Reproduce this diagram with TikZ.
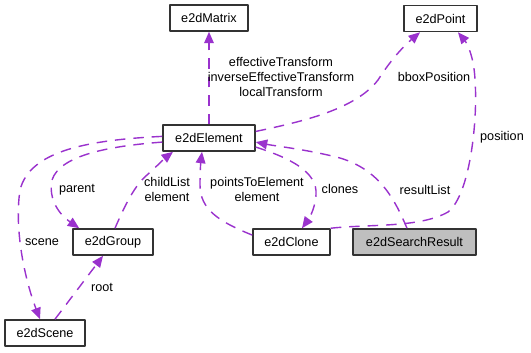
\documentclass[tikz,border=0pt]{standalone}
\usepackage{fontspec}
\setmainfont{Liberation Sans}
\usetikzlibrary{arrows.meta}
\definecolor{tim}{HTML}{9A32CD}
\definecolor{vien}{HTML}{333333}
\definecolor{xam}{HTML}{BFBFBF}
\tikzset{
	lop/.style={draw=vien, line width=0.9pt, fill=white, minimum height=0.52cm, inner sep=0pt, font=\fontsize{7.2}{8.6}\selectfont},
	quanhe/.style={->, tim, line width=0.8pt, dash pattern=on 6pt off 4.5pt},
	nhan/.style={font=\fontsize{7.2}{8.6}\selectfont, align=center, inner sep=0pt}
}
\begin{document}
\begin{tikzpicture}[x=0.02cm, y=-0.02cm, line join = round, >={Triangle[length=6.5pt,width=5.5pt]}]
			\useasboundingbox (0,0) rectangle (531,352);
			%Các lớp
			\node[lop, minimum width=1.56cm] (matrix) at (209,18) {e2dMatrix};
			\node[lop, minimum width=1.46cm] (point) at (440.5,18.5) {e2dPoint};
			\node[lop, minimum width=1.84cm] (element) at (209,138) {e2dElement};
			\node[lop, minimum width=1.6cm] (group) at (113,242) {e2dGroup};
			\node[lop, minimum width=1.54cm] (clone) at (291.5,242) {e2dClone};
			\node[lop, minimum width=2.46cm, fill=xam] (search) at (414.5,242) {e2dSearchResult};
			\node[lop, minimum width=1.6cm] (scene) at (45,333) {e2dScene};
			%Các quan hệ
			\draw[quanhe] (element.north) -- (matrix.south);
			\draw[quanhe] (element.8) .. controls (300,122) and (355,110) .. (378,80)
				.. controls (392,58) and (405,45) .. ([xshift=-0.41cm]point.south);
			\draw[quanhe] (clone.north east) .. controls (370,224) and (420,228) .. (448,212)
				.. controls (470,195) and (478,120) .. (475,80)
				.. controls (474,55) and (466,42) .. ([xshift=0.35cm]point.south);
			\draw[quanhe] ([xshift=-0.15cm]search.north) .. controls (395,200) and (380,170) .. (340,158)
				.. controls (310,150) and (275,146) .. (element.-5);
			\draw[quanhe] (element.-11) .. controls (290,158) and (318,172) .. (316,195)
				.. controls (315,210) and (308,220) .. ([xshift=0.21cm]clone.north);
			\draw[quanhe] (clone.170) .. controls (220,222) and (200,210) .. (200,185)
				.. controls (200,170) and (201,160) .. ([xshift=-0.14cm]element.south);
			\draw[quanhe] ([xshift=0.04cm]group.north) .. controls (125,205) and (135,185) .. (147,175)
				.. controls (157,166) and (165,158) .. ([xshift=-0.72cm]element.south);
			\draw[quanhe] (element.185) .. controls (110,146) and (60,155) .. (52,180)
				.. controls (48,200) and (60,215) .. ([xshift=0.14cm]group.north west);
			\draw[quanhe] (element.178) .. controls (90,140) and (30,150) .. (20,190)
				.. controls (14,230) and (25,280) .. ([xshift=-0.1cm]scene.north);
			\draw[quanhe] ([xshift=0.2cm]scene.north) -- ([xshift=-0.2cm]group.south);
			%Các nhãn
			\node[nhan] (ltransform) at (281,77) {effectiveTransform\\inverseEffectiveTransform\\localTransform};
			\node[nhan] (lbbox) at (434,77) {bboxPosition};
			\node[nhan] (lposition) at (502,137) {position};
			\node[nhan] (lresult) at (425,190) {resultList};
			\node[nhan] (lclones) at (340,189) {clones};
			\node[nhan] (lpoints) at (257,189.5) {pointsToElement\\element};
			\node[nhan] (lchild) at (167,189.5) {childList\\element};
			\node[nhan] (lparent) at (77,190) {parent};
			\node[nhan] (lscene) at (42,242) {scene};
			\node[nhan] (lroot) at (102,287) {root};
		\end{tikzpicture}
\end{document}
